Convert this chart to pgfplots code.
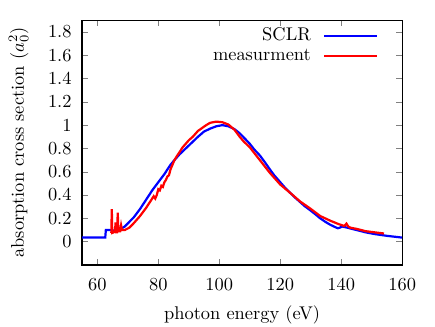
\documentclass[border=0pt]{standalone}
\usepackage{pgfplots}
\pgfplotsset{compat=1.18}
\begin{document}
\begin{tikzpicture}
\begin{axis}[
  scale only axis,
  width=174pt, height=133pt,
  xmin=55, xmax=160, ymin=-0.2, ymax=1.9,
  xtick={60,80,...,160},
  ytick={0,0.2,...,1.8},
  tick align=inside,
  major tick length=3.2pt,
  xticklabel style={yshift=-3.8pt},
  yticklabel style={xshift=-2.2pt},
  xlabel={photon energy (eV)},
  ylabel={absorption cross section ($a_0^2$)},
  xlabel style={yshift=-1.6pt},
  ylabel style={yshift=3.8pt},
  axis line style={line width=0.8pt},
  legend style={draw=none, fill=none, at={(1,1)}, anchor=north east,
    xshift=-10pt, yshift=0pt, row sep=-1pt},
  legend cell align=right,
  legend plot pos=right,
  legend image code/.code={\path (0cm,0cm); \draw[#1] (0.17cm,0cm) -- (1.17cm,0cm);},
]
\addplot[blue, line width=1.2pt] coordinates {
(55,0.035) (62.6,0.035) (62.8,0.1) (64,0.1) (65,0.095) (67,0.1) (69,0.13)
(70.5,0.17) (72,0.21) (74,0.28) (76,0.36) (78,0.44) (80,0.51) (82,0.58)
(84,0.66) (85.3,0.70) (87,0.75) (89,0.80) (91,0.85) (93,0.9) (95,0.945)
(97,0.97) (99,0.99) (101,1.0) (103,0.99) (105,0.965) (106.7,0.93)
(108,0.895) (110,0.84) (111.5,0.79) (113.3,0.74) (115,0.68) (116.6,0.62)
(118,0.57) (120,0.51) (121.5,0.465) (123.2,0.42) (125,0.375) (126.5,0.34)
(128,0.305) (129.8,0.27) (131.5,0.235) (133.1,0.2) (134.8,0.17)
(136.4,0.145) (138,0.125) (138.9,0.115) (139.5,0.12) (140.3,0.13)
(142,0.12) (145,0.1) (148,0.08) (151,0.065) (155,0.05) (160,0.035)
};
\addlegendentry{SCLR}
\addplot[red, line width=1.2pt] coordinates {
(64.6,0.075) (64.75,0.28) (64.9,0.075) (65.4,0.08) (65.8,0.09) (66.0,0.165)
(66.2,0.08) (66.5,0.08) (66.7,0.25) (66.9,0.09) (67.5,0.09) (67.8,0.14)
(68.1,0.1) (69,0.1) (70.5,0.12) (72,0.16) (74,0.22) (76,0.29) (77.5,0.35)
(78,0.37) (78.5,0.39) (79,0.37) (79.5,0.4) (80,0.45) (80.5,0.44) (81,0.48)
(81.5,0.47) (82,0.51) (82.5,0.53) (83,0.56) (83.5,0.57) (84,0.62)
(85.3,0.70) (86,0.73) (88,0.81) (90,0.87) (91.3,0.9) (93,0.95) (95.7,1.0)
(97,1.02) (99,1.03) (101,1.025) (103,1.005) (105,0.96) (106.7,0.9)
(108,0.86) (110,0.81) (113.3,0.70) (116.6,0.59) (120,0.49) (123.2,0.42)
(126.5,0.345) (129.8,0.285) (133.1,0.22) (136.4,0.18) (139.2,0.15)
(141,0.135) (141.7,0.155) (142.3,0.13) (143,0.12) (145,0.11) (148,0.09)
(151,0.08) (154,0.07)
};
\addlegendentry{measurment}
\end{axis}
\pgfresetboundingbox
\path[use as bounding box] (-44.6pt,-33.7pt) rectangle (191.8pt,144pt);
\end{tikzpicture}
\end{document}
